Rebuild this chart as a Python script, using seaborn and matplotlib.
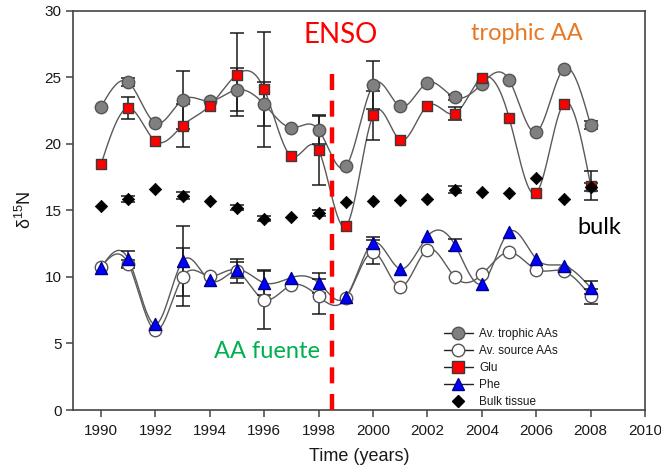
import numpy as np
import pandas as pd
import matplotlib
matplotlib.use("Agg")
import matplotlib.pyplot as plt
from matplotlib.lines import Line2D
import seaborn as sns

# ---------------- data ----------------
years = [1990, 1991, 1992, 1993, 1994, 1995, 1996, 1997, 1998, 1999,
         2000, 2001, 2002, 2003, 2004, 2005, 2006, 2007, 2008]

trophic = [22.76, 24.63, 21.56, 23.30, 23.20, 24.06, 22.96, 21.20, 21.05, 18.30,
           24.40, 22.80, 24.58, 23.48, 24.50, 24.80, 20.88, 25.60, 21.38]
trophic_err = [0, 0.33, 0, 2.2, 0, 1.6, 1.66, 0, 1.1, 0,
               1.8, 0, 0, 0.2, 0, 0, 0, 0, 0.3]

source = [10.75, 11.00, 5.98, 10.00, 10.05, 10.43, 8.30, 9.38, 8.53, 8.38,
          11.85, 9.26, 12.05, 10.00, 10.18, 11.85, 10.55, 10.43, 8.55]
source_err = [0, 0.3, 0, 2.2, 0, 0.9, 2.18, 0, 1.3, 0,
              0.9, 0, 0, 0, 0, 0, 0, 0, 0.57]

glu = [18.45, 22.68, 20.20, 21.36, 22.86, 25.20, 24.08, 19.05, 19.50, 13.80,
       22.14, 20.28, 22.86, 22.26, 24.96, 21.96, 16.30, 23.00, 16.86]
glu_err = [0, 0.84, 0, 1.6, 0, 3.1, 4.3, 0, 2.6, 0,
           1.85, 0, 0, 0.5, 0, 0, 0, 0, 1.07]

phe = [10.68, 11.35, 6.43, 11.18, 9.73, 10.50, 9.55, 9.95, 9.55, 8.50,
       12.55, 10.60, 13.05, 12.43, 9.50, 13.38, 11.35, 10.85, 9.18]
phe_err = [0, 0.6, 0, 2.62, 0, 0.6, 0.9, 0, 0.75, 0,
           0.45, 0, 0, 0.45, 0, 0, 0, 0, 0.5]

bulk = [15.36, 15.86, 16.60, 16.10, 15.70, 15.20, 14.38, 14.53, 14.80, 15.60,
        15.72, 15.75, 15.86, 16.56, 16.36, 16.30, 17.43, 15.88, 16.76]
bulk_err = [0, 0.22, 0, 0.25, 0, 0.2, 0.2, 0, 0.2, 0,
            0, 0, 0, 0.25, 0, 0, 0, 0, 0.3]

series_names = ["Av. trophic AAs", "Av. source AAs", "Glu", "Phe", "Bulk tissue"]
enso_year = 1998.5
x_ticks = list(range(1990, 2011, 2))
y_ticks = [0, 5, 10, 15, 20, 25, 30]


def natural_spline(x, y, n=600):
    x = np.asarray(x, float)
    y = np.asarray(y, float)
    m = len(x)
    h = np.diff(x)
    A = np.zeros((m, m))
    b = np.zeros(m)
    A[0, 0] = 1
    A[-1, -1] = 1
    for i in range(1, m - 1):
        A[i, i - 1] = h[i - 1]
        A[i, i] = 2 * (h[i - 1] + h[i])
        A[i, i + 1] = h[i]
        b[i] = 3 * ((y[i + 1] - y[i]) / h[i] - (y[i] - y[i - 1]) / h[i - 1])
    c = np.linalg.solve(A, b)
    bb = (y[1:] - y[:-1]) / h - h * (2 * c[:-1] + c[1:]) / 3
    d = (c[1:] - c[:-1]) / (3 * h)
    xs = np.linspace(x[0], x[-1], n)
    idx = np.clip(np.searchsorted(x, xs) - 1, 0, m - 2)
    dx = xs - x[idx]
    ys = y[idx] + bb[idx] * dx + c[idx] * dx ** 2 + d[idx] * dx ** 3
    return xs, ys


sns.set_theme(style="ticks")
plt.rcParams['font.family'] = ['Liberation Sans', 'DejaVu Sans']
plt.rcParams['mathtext.fontset'] = 'custom'
plt.rcParams['mathtext.rm'] = 'Liberation Sans'

fig = plt.figure(figsize=(6.61, 4.71), dpi=100)
ax = fig.add_axes([0.110, 0.1295, 0.866, 0.848])

line_col = '#5a5a5a'
edge_col = '#3a3a3a'

styles = [
    (trophic, trophic_err, dict(marker='o', s=80, color='#808080', edgecolor='#555555')),
    (source, source_err, dict(marker='o', s=80, color='white', edgecolor='#555555')),
    (glu, glu_err, dict(marker='s', s=62, color='#ff0000', edgecolor=edge_col)),
    (phe, phe_err, dict(marker='^', s=75, color='#0000ff', edgecolor='#00008a')),
]

# spline curves
for vals, err, st in styles:
    xs, ys = natural_spline(years, vals)
    sns.lineplot(x=xs, y=ys, ax=ax, color=line_col, lw=1.0, sort=False,
                 estimator=None, zorder=2)

# error bars
for vals, err, st in styles + [(bulk, bulk_err, None)]:
    e = np.asarray(err)
    msk = e > 0
    ax.errorbar(np.asarray(years)[msk], np.asarray(vals)[msk], yerr=e[msk],
                fmt='none', ecolor='#1a1a1a', elinewidth=1.1, capsize=5,
                capthick=1.1, zorder=3)

# markers
for vals, err, st in styles:
    sns.scatterplot(x=years, y=vals, ax=ax, linewidth=1.0, zorder=4, legend=False, **st)
sns.scatterplot(x=years, y=bulk, ax=ax, marker='D', s=40, color='black',
                edgecolor='black', linewidth=0.5, zorder=4, legend=False)

# ENSO line
ax.plot([enso_year, enso_year], [0, 25.9], color='#ff0000', lw=3.2,
        linestyle=(0, (3.6, 2.4)), zorder=5, solid_capstyle='butt')

ax.set_xlim(1988.96, 2010)
ax.set_ylim(0, 30)
ax.set_xticks(x_ticks)
ax.set_yticks(y_ticks)
ax.tick_params(axis='both', labelsize=11, length=5, width=1.1, color='#444444',
               labelcolor='#1a1a1a', direction='out')
ax.tick_params(axis='x', pad=5)
ax.tick_params(axis='y', pad=3)
for sp in ax.spines.values():
    sp.set_color('#444444')
    sp.set_linewidth(1.2)
    sp.set_visible(True)

ax.set_xlabel('Time (years)', fontsize=13, labelpad=7, color='#1a1a1a')
ax.set_ylabel(r'δ$^{15}$N', fontsize=13, labelpad=7, color='#1a1a1a')

# annotations
ax.text(1998.79, 28.2, 'ENSO', color='#ff0000', fontsize=20,
        family=['Lato', 'DejaVu Sans'], ha='center', va='center')
ax.text(2005.66, 28.3, 'trophic AA', color='#e87722', fontsize=17,
        family=['Lato', 'DejaVu Sans'], ha='center', va='center')
ax.text(2008.33, 13.7, 'bulk', color='black', fontsize=17,
        family=['Lato', 'DejaVu Sans'], ha='center', va='center')
ax.text(1996.1, 4.43, 'AA fuente', color='#00b050', fontsize=17,
        family=['Lato', 'DejaVu Sans'], ha='center', va='center')

# legend
handles = [
    Line2D([], [], color='#222222', lw=1, marker='o', ms=9, mfc='#808080', mec='#555555'),
    Line2D([], [], color='#222222', lw=1, marker='o', ms=9, mfc='white', mec='#555555'),
    Line2D([], [], color='#222222', lw=1, marker='s', ms=8, mfc='#ff0000', mec=edge_col),
    Line2D([], [], color='#222222', lw=1, marker='^', ms=9, mfc='#0000ff', mec='#00008a'),
    Line2D([], [], color='none', lw=0, marker='D', ms=6, mfc='black', mec='black'),
]
leg = ax.legend(handles, series_names, loc='lower left',
                bbox_to_anchor=(0.648, 0.005), frameon=False, fontsize=8.5,
                handlelength=2.5, handletextpad=0.5, labelspacing=0.42,
                borderaxespad=0, borderpad=0)
for t in leg.get_texts():
    t.set_color('#1a1a1a')

fig.savefig('out.png', dpi=100)
